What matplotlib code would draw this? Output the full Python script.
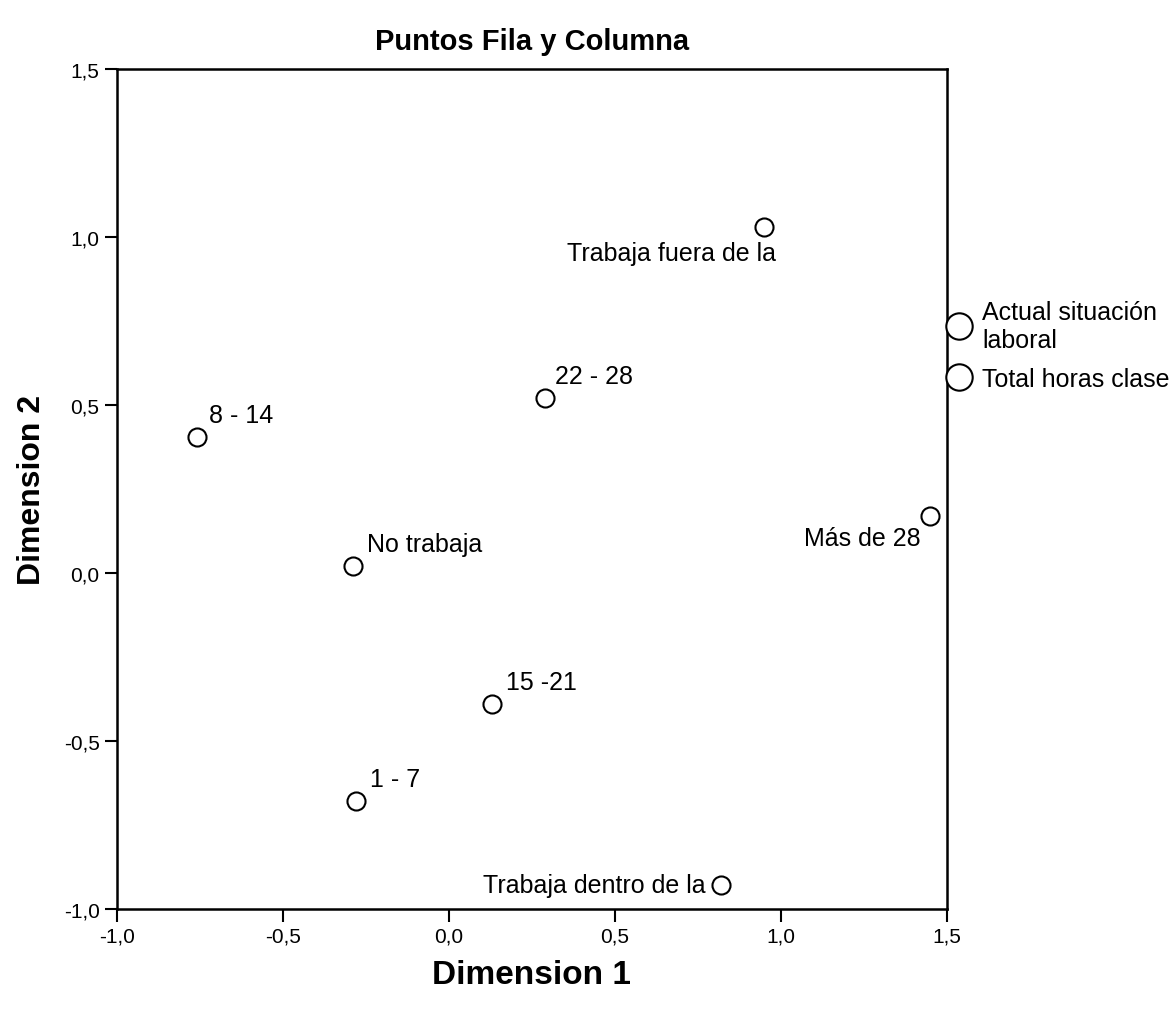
import matplotlib
matplotlib.use('Agg')
import matplotlib.pyplot as plt
from matplotlib.lines import Line2D

plt.rcParams['font.family'] = ['Liberation Sans', 'DejaVu Sans']

# row points: Actual situacion laboral
row_labels = ['No trabaja', 'Trabaja fuera de la', 'Trabaja dentro de la']
row_x = [-0.29, 0.95, 0.82]
row_y = [0.02, 1.03, -0.93]

# column points: Total horas clase
col_labels = ['1 - 7', '8 - 14', '15 -21', '22 - 28', 'Más de 28']
col_x = [-0.28, -0.76, 0.13, 0.29, 1.45]
col_y = [-0.68, 0.405, -0.39, 0.52, 0.17]

ticks = [-1.0, -0.5, 0.0, 0.5, 1.0, 1.5]
tick_labels = ['-1,0', '-0,5', '0,0', '0,5', '1,0', '1,5']

legend_labels = ['Actual situación\nlaboral', 'Total horas clase']

# where each label sits relative to its point (pixels) and alignment
label_pos = {
    'No trabaja': (14, 10, 'left', 'bottom'),
    'Trabaja fuera de la': (12, -14, 'right', 'top'),
    'Trabaja dentro de la': (-16, 0, 'right', 'center'),
    '1 - 7': (14, 10, 'left', 'bottom'),
    '8 - 14': (12, 10, 'left', 'bottom'),
    '15 -21': (14, 10, 'left', 'bottom'),
    '22 - 28': (10, 10, 'left', 'bottom'),
    'Más de 28': (-10, -10, 'right', 'top'),
}

fig = plt.figure(figsize=(11.69, 10.12), dpi=100)
ax = fig.add_axes([0.100, 0.101, 0.710, 0.830])

ax.plot(row_x, row_y, 'o', ms=13, mfc='white', mec='black', mew=1.5, ls='none')
ax.plot(col_x, col_y, 'o', ms=13, mfc='white', mec='black', mew=1.5, ls='none')

for labels, xs, ys in [(row_labels, row_x, row_y), (col_labels, col_x, col_y)]:
    for lab, x, y in zip(labels, xs, ys):
        dx, dy, ha, va = label_pos[lab]
        ax.annotate(lab, (x, y), xytext=(dx, dy), textcoords='offset pixels',
                    ha=ha, va=va, fontsize=18)

ax.set_xlim(-1.0, 1.5)
ax.set_ylim(-1.0, 1.5)
ax.set_xticks(ticks)
ax.set_xticklabels(tick_labels)
ax.set_yticks(ticks)
ax.set_yticklabels(tick_labels)
ax.tick_params(direction='out', length=9, width=1.5, labelsize=15, top=False, right=False)
for s in ax.spines.values():
    s.set_linewidth(1.8)

ax.set_xlabel('Dimension 1', fontsize=24, fontweight='bold', labelpad=10)
ax.set_ylabel('Dimension 2', fontsize=23, fontweight='bold', labelpad=12)
ax.set_title('Puntos Fila y Columna', fontsize=21, fontweight='bold', pad=14)

handles = [Line2D([], [], marker='o', ls='none', ms=19, mfc='white', mec='black', mew=1.5)
           for _ in legend_labels]
ax.legend(handles, legend_labels, loc='upper left', bbox_to_anchor=(1.0, 0.725),
          frameon=False, fontsize=18, handlelength=1.0, handletextpad=0.4,
          labelspacing=0.6, borderaxespad=0.0, borderpad=0.0)

fig.savefig('out.png', dpi=100)
